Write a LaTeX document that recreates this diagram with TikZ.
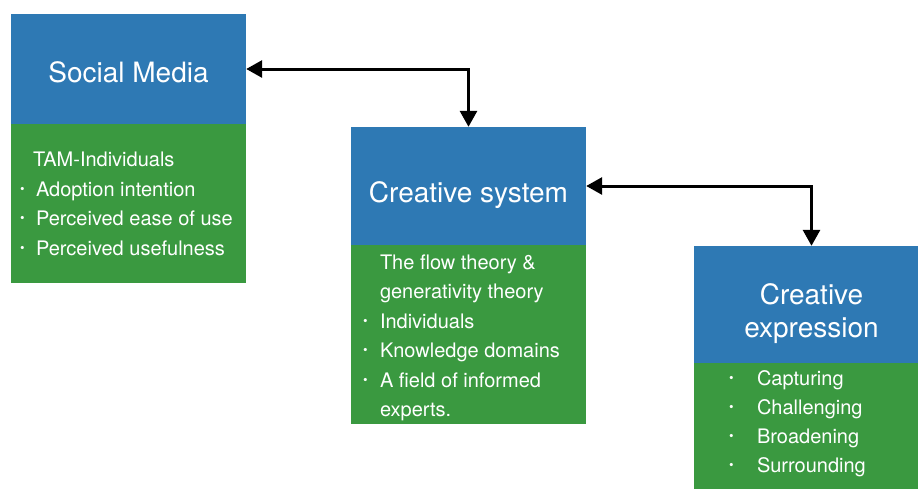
\documentclass[tikz,border=0pt]{standalone}
\usepackage{fontspec}
\setmainfont{TeX Gyre Heros}
\usetikzlibrary{arrows.meta,positioning}

\definecolor{headblue}{RGB}{46,121,180}
\definecolor{bodygreen}{RGB}{58,153,64}

% bullet with a fixed gap before the item text
\newcommand{\bul}[1][15pt]{\makebox[#1][l]{\raisebox{3pt}{\fontsize{13}{13}\selectfont•}}}

\tikzset{
  head/.style={rectangle, fill=headblue, minimum width=235pt, inner sep=0pt},
  headtext/.style={inner sep=0pt, align=center, text=white,
    font=\fontsize{28}{33}\selectfont},
  body/.style={rectangle, fill=bodygreen, minimum width=235pt, inner sep=0pt},
  bodytext/.style={anchor=west, inner sep=0pt, align=left, text=white,
    font=\fontsize{20}{29.5}\selectfont},
  link/.style={line width=3pt,
    {Triangle[length=16pt,width=17pt]}-{Triangle[length=16pt,width=17pt]}}
}

\begin{document}
\begin{tikzpicture}[x=1pt,y=-1pt]
    \clip (0,0) rectangle (918,488);
    \fill[white] (0,0) rectangle (918,488);

    % social media
    \node[head, minimum height=110pt] (sm) at (128.5,69) {};
    \node[headtext] (smtitle) at ([yshift=-3pt]sm.center) {Social Media};
    \node[body, minimum height=159pt, below=0pt of sm] (smbody) {};
    \node[bodytext] (smtext) at ([xshift=9pt]smbody.west)
        {\hspace*{13pt}TAM-Individuals\\
         \bul[16pt]Adoption intention\\
         \bul[16pt]Perceived ease of use\\
         \bul[16pt]Perceived usefulness};

    % creative system
    \node[head, minimum height=118pt] (cs) at (468.5,186) {};
    \node[headtext] (cstitle) at ([yshift=-9pt]cs.center) {Creative system};
    \node[body, minimum height=179pt, below=0pt of cs] (csbody) {};
    \node[bodytext] (cstext) at ([xshift=12pt,yshift=-3pt]csbody.west)
        {\hspace*{17pt}The flow theory \&\\
         \hspace*{17pt}generativity theory\\
         \bul[17pt]Individuals\\
         \bul[17pt]Knowledge domains\\
         \bul[17pt]A field of informed\\
         \hspace*{17pt}experts.};

    % creative expression
    \node[head, minimum height=117pt] (ce) at (811.5,304.5) {};
    \node[headtext] (cetitle) at ([yshift=-9pt]ce.center) {Creative\\expression};
    \node[body, minimum height=130pt, below=0pt of ce] (cebody) {};
    \node[bodytext, font=\fontsize{20}{29}\selectfont] (cetext)
        at ([xshift=35pt]ce.south west |- 0,423.5)
        {\bul[28pt]Capturing\\
         \bul[28pt]Challenging\\
         \bul[28pt]Broadening\\
         \bul[28pt]Surrounding};

    \draw[link] (sm.east) -| (cs.north);
    \draw[link] (cs.east) -| (ce.north);
\end{tikzpicture}
\end{document}
